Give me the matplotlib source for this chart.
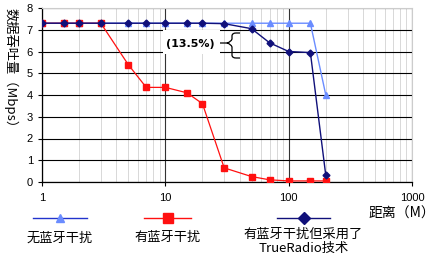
import matplotlib
matplotlib.use("Agg")
import matplotlib.pyplot as plt
from matplotlib.lines import Line2D
from matplotlib.path import Path
from matplotlib.patches import PathPatch

plt.rcParams["font.family"] = ["Noto Sans CJK SC", "DejaVu Sans"]

# 数据
dist = [1, 1.5, 2, 3, 5, 7, 10, 15, 20, 30, 50, 70, 100, 150, 200]
no_bt = [7.3, 7.3, 7.3, 7.3, 7.3, 7.3, 7.3, 7.3, 7.3, 7.3, 7.3, 7.3, 7.3, 7.3, 4.0]
with_bt = [7.3, 7.3, 7.3, 7.3, 5.4, 4.35, 4.35, 4.1, 3.6, 0.65, 0.25, 0.1, 0.05, 0.05, 0.05]
true_radio = [7.3, 7.3, 7.3, 7.3, 7.3, 7.3, 7.3, 7.3, 7.3, 7.28, 7.05, 6.4, 6.0, 5.95, 0.3]

names = ["无蓝牙干扰", "有蓝牙干扰", "有蓝牙干扰但采用了\nTrueRadio技术"]
styles = [
    dict(color="#6a8cff", marker="^", ms=4.5, lw=1.0),
    dict(color="#ff1010", marker="s", ms=4.5, lw=0.9),
    dict(color="#10107a", marker="D", ms=3.5, lw=1.0),
]

W, H = 436, 265
fig = plt.figure(figsize=(W / 100, H / 100), dpi=100)


def fx(px):
    return px / W


def fy(py):
    return 1 - py / H


ax = fig.add_axes([fx(42), fy(182), fx(412) - fx(42), fy(8) - fy(182)])
ax.set_xscale("log")
ax.set_xlim(1, 1000)
ax.set_ylim(0, 8)

for ys, st in zip([no_bt, with_bt, true_radio], styles):
    ax.plot(dist, ys, zorder=3, **st)

# 网格
ax.set_yticks(range(0, 9))
ax.set_xticks([1, 10, 100, 1000])
ax.set_xticklabels(["1", "10", "100", "1000"])
ax.grid(True, which="major", axis="y", color="black", lw=0.8)
ax.grid(True, which="major", axis="x", color="#333333", lw=0.8)
ax.grid(True, which="minor", axis="x", color="#d8d8d8", lw=0.7)
ax.set_axisbelow(True)
ax.tick_params(axis="both", which="major", labelsize=8, length=3, width=0.8, color="black")
ax.tick_params(axis="x", which="minor", length=0)
ax.tick_params(axis="x", pad=5)
for lab in ax.get_xticklabels() + ax.get_yticklabels():
    lab.set_family("Liberation Sans")
for s in ["top", "right"]:
    ax.spines[s].set_color("#cccccc")
for s in ["left", "bottom"]:
    ax.spines[s].set_color("black")
    ax.spines[s].set_linewidth(0.9)

# 13.5% 标注：白底文字 + 花括号
fig.patches.append(plt.Rectangle((fx(163), fy(54)), fx(220) - fx(163), fy(30) - fy(54),
                                 transform=fig.transFigure, facecolor="white",
                                 edgecolor="none", zorder=1.5))
fig.text(fx(190), fy(44), "(13.5%)", ha="center", va="center", fontsize=8, fontweight="bold",
         family="DejaVu Sans", zorder=5)
bx = [(220, 43), (227, 43), (227, 43), (231, 42), (232, 39), (232, 36), (232, 33), (236, 33),
      (240, 33), (227, 43), (231, 44), (232, 47), (232, 55), (232, 58), (236, 58), (240, 58)]
codes = [Path.MOVETO, Path.LINETO, Path.MOVETO, Path.CURVE3, Path.CURVE3, Path.LINETO,
         Path.CURVE3, Path.CURVE3, Path.LINETO, Path.MOVETO, Path.CURVE3, Path.CURVE3,
         Path.LINETO, Path.CURVE3, Path.CURVE3, Path.LINETO]
brace = Path([(fx(x), fy(y)) for x, y in bx], codes)
fig.add_artist(PathPatch(brace, facecolor="none", edgecolor="black", lw=0.9,
                         transform=fig.transFigure, zorder=5))

ax.set_ylabel("数据吞吐量（Mbps）", rotation=-90, fontsize=9.5, va="center", ha="center")
ax.yaxis.set_label_coords(-0.085, 0.64)
fig.text(fx(402), fy(214), "距离（M）", ha="center", va="center", fontsize=10)

# 图例
leg_lines = [(33, 87), (144, 191), (277, 330)]
leg_text_y = [238, 238, 241]
leg_colors = ["#2233cc", "#ff1010", "#10107a"]
leg_ms = [6, 7, 6]
for (x0, x1), ty, st, c, ms, nm in zip(leg_lines, leg_text_y, styles, leg_colors, leg_ms, names):
    fig.add_artist(Line2D([fx(x0), fx(x1)], [fy(218), fy(218)], color=c, lw=1.0,
                          transform=fig.transFigure))
    fig.add_artist(Line2D([fx((x0 + x1) / 2)], [fy(218)], color=st["color"], marker=st["marker"],
                          ms=ms, lw=0, transform=fig.transFigure))
    fig.text(fx((x0 + x1) / 2), fy(ty), nm, ha="center", va="center", fontsize=9.5,
             linespacing=1.1)

fig.savefig("out.png", dpi=100)
